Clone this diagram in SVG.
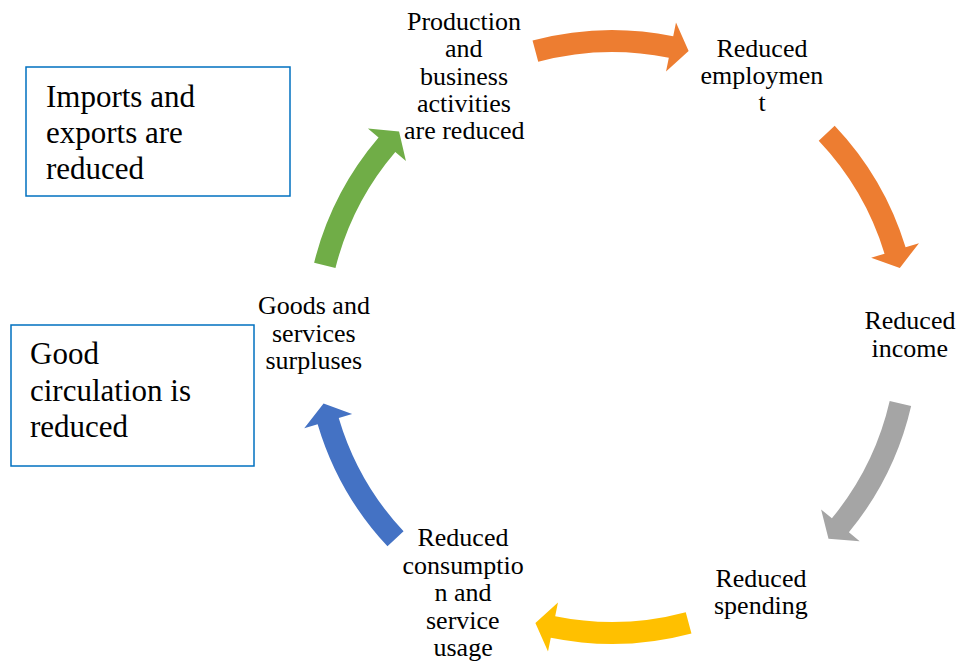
<svg xmlns="http://www.w3.org/2000/svg" xmlns:xlink="http://www.w3.org/1999/xlink" width="959" height="663" viewBox="0 0 959 663">
<defs>
<path id="arr" d="M307,0 A307,307 0 0 1 274.74,136.98 L287.27,143.23 L256.35,148 L242.53,120.92 L255.05,127.17 A285,285 0 0 0 285,0 Z"/>
</defs>
<rect width="959" height="663" fill="#fff"/>
<g id="connectors">
<use xlink:href="#arr" transform="translate(612,337) rotate(-105)" fill="#ED7D31"/>
<use xlink:href="#arr" transform="translate(612,337) rotate(-43.5)" fill="#ED7D31"/>
<use xlink:href="#arr" transform="translate(612,337) rotate(13)" fill="#A5A5A5"/>
<use xlink:href="#arr" transform="translate(612,337) rotate(75)" fill="#FFC000"/>
<use xlink:href="#arr" transform="translate(612,337) rotate(137)" fill="#4472C4"/>
<use xlink:href="#arr" transform="translate(612,337) rotate(194)" fill="#70AD47"/>
</g>
<g id="n-production" font-family="Liberation Serif, serif" font-size="31">
<text transform="translate(407,30) scale(0.8387)">Production</text>
<text transform="translate(445,57) scale(0.8387)">and</text>
<text transform="translate(420,84.5) scale(0.8387)">business</text>
<text transform="translate(417,112) scale(0.8387)">activities</text>
<text transform="translate(404,139) scale(0.8387)">are reduced</text>
</g>
<g id="n-employment" font-family="Liberation Serif, serif" font-size="31">
<text transform="translate(716.5,57) scale(0.8387)">Reduced</text>
<text transform="translate(700.5,84) scale(0.8387)">employmen</text>
<text transform="translate(758.5,111) scale(0.8387)">t</text>
</g>
<g id="n-income" font-family="Liberation Serif, serif" font-size="31">
<text transform="translate(864.5,329) scale(0.8387)">Reduced</text>
<text transform="translate(871.5,357) scale(0.8387)">income</text>
</g>
<g id="n-spending" font-family="Liberation Serif, serif" font-size="31">
<text transform="translate(715.5,587) scale(0.8387)">Reduced</text>
<text transform="translate(714,614) scale(0.8387)">spending</text>
</g>
<g id="n-consumption" font-family="Liberation Serif, serif" font-size="31">
<text transform="translate(417.5,546) scale(0.8387)">Reduced</text>
<text transform="translate(402.5,573.5) scale(0.8387)">consumptio</text>
<text transform="translate(434.5,601) scale(0.8387)">n and</text>
<text transform="translate(426,628.5) scale(0.8387)">service</text>
<text transform="translate(433.5,656) scale(0.8387)">usage</text>
</g>
<g id="n-surplus" font-family="Liberation Serif, serif" font-size="31">
<text transform="translate(258,314) scale(0.8387)">Goods and</text>
<text transform="translate(272,342) scale(0.8387)">services</text>
<text transform="translate(265.5,369) scale(0.8387)">surpluses</text>
</g>
<g id="box-imports">
<rect x="26" y="67" width="264" height="129" fill="#fff" stroke="#0070C0" stroke-width="1.5"/>
<text font-family="Liberation Serif" font-size="31" x="46" y="107">Imports and</text>
<text font-family="Liberation Serif" font-size="31" x="46" y="143">exports are</text>
<text font-family="Liberation Serif" font-size="31" x="46" y="179">reduced</text>
</g>
<g id="box-circulation">
<rect x="11" y="325" width="243" height="141" fill="#fff" stroke="#0070C0" stroke-width="1.5"/>
<text font-family="Liberation Serif" font-size="31" x="30" y="364">Good</text>
<text font-family="Liberation Serif" font-size="31" x="30" y="401">circulation is</text>
<text font-family="Liberation Serif" font-size="31" x="30" y="437">reduced</text>
</g>
</svg>
